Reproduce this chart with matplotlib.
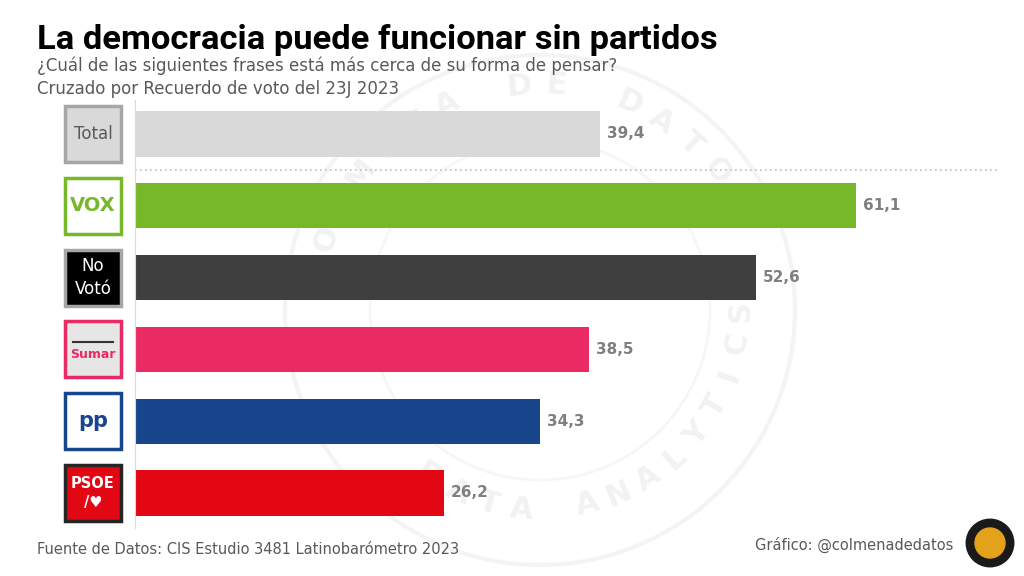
"""
La democracia puede funcionar sin partidos - barras por recuerdo de voto
"""
import numpy as np
import matplotlib.pyplot as plt
from matplotlib.patches import Rectangle, Circle

# Datos
categories = ['Total', 'VOX', 'No Votó', 'Sumar', 'PP', 'PSOE']
values = [39.4, 61.1, 52.6, 38.5, 34.3, 26.2]
bar_colors = ['#d9d9d9', '#76b82a', '#3f3f3f', '#ea2a63', '#17468c', '#e30613']

# Cajas de logo: (fondo, borde, texto, color texto)
logo_face = ['#d9d9d9', '#ffffff', '#000000', '#e6e6e6', '#ffffff', '#e30613']
logo_edge = ['#a6a6a6', '#76b82a', '#a6a6a6', '#ea2a63', '#17468c', '#262626']
logo_text = ['Total', 'VOX', 'No\nVotó', 'Sumar', 'pp', 'PSOE\n/♥']
logo_tcol = ['#595959', '#76b82a', '#ffffff', '#ea2a63', '#17468c', '#ffffff']

W, H = 1024, 576
fig = plt.figure(figsize=(10.24, 5.76), dpi=100)

# marca de agua circular (en un eje de fondo, en pixeles)
bg = fig.add_axes([0, 0, 1, 1], zorder=-1)
bg.set_xlim(0, W)
bg.set_ylim(H, 0)
bg.axis('off')


def arc_text(txt, cx, cy, r, a_mid, step, top=True):
    n = len(txt)
    for i, ch in enumerate(txt):
        if top:
            a = a_mid + (n / 2 - 0.5 - i) * step
            rot = a - 90
        else:
            a = a_mid - (n / 2 - 0.5 - i) * step
            rot = a + 90
        t = np.radians(a)
        bg.text(cx + r * np.cos(t), cy - r * np.sin(t), ch, rotation=rot,
                ha='center', va='center', fontsize=22, fontweight='bold', color='#f2f2f2')


arc_text('COLMENA DE DATOS', 540, 310, 225, 100, 9.5, top=True)
arc_text('DATA ANALYTICS', 540, 310, 200, 298, 9.5, top=False)
bg.add_patch(Circle((540, 310), 255, fill=False, edgecolor='#f4f4f4', lw=3))
bg.add_patch(Circle((540, 310), 170, fill=False, edgecolor='#f6f6f6', lw=2))

ax = fig.add_axes([135 / W, 48 / H, 865 / W, 428 / H])
ax.patch.set_alpha(0)

px = 11.8  # pixeles por unidad
ax.set_xlim(0, 865 / px)
spacing = 71.8
ax.set_ylim((528 - 134) / spacing, -(134 - 100) / spacing)

y = list(range(len(categories)))
ax.barh(y, values, height=0.63, color=bar_colors, zorder=2)

for yi, v in zip(y, values):
    ax.text(v + 7 / px, yi, f'{v:.1f}'.replace('.', ','), va='center', ha='left',
            fontsize=11, fontweight='bold', color='#7f7f7f')

# separador punteado
ax.plot([0, 865 / px], [0.5, 0.5], linestyle=(0, (1, 2)), color='#bfbfbf', lw=1.2, clip_on=False)

for s in ['top', 'right', 'bottom']:
    ax.spines[s].set_visible(False)
ax.spines['left'].set_color('#d9d9d9')
ax.set_xticks([])
ax.set_yticks([])

# logos
bw = 56 / px
bh = 56 / spacing
x0 = (65 - 135) / px
for yi, fc, ec, t, tc in zip(y, logo_face, logo_edge, logo_text, logo_tcol):
    ax.add_patch(Rectangle((x0, yi - bh / 2), bw, bh, facecolor=fc, edgecolor=ec, lw=2.5,
                           clip_on=False, zorder=3))
    fs = 12
    fw = 'normal'
    if t == 'VOX':
        fs, fw = 14, 'bold'
    elif t == 'Sumar':
        fs, fw = 9, 'bold'
        ax.plot([x0 + 0.7, x0 + bw - 0.7], [yi - 0.1, yi - 0.1], color='#333333', lw=1.5,
                clip_on=False, zorder=4)
    elif t == 'pp':
        fs, fw = 15, 'bold'
    elif t.startswith('PSOE'):
        fs, fw = 10.5, 'bold'
    ax.text(x0 + bw / 2, yi + (0.07 if t == 'Sumar' else 0), t, ha='center', va='center',
            fontsize=fs, fontweight=fw, color=tc, zorder=5, linespacing=1.3)

# textos
fig.text(37 / W, 1 - 40 / H, 'La democracia puede funcionar sin partidos', fontsize=24.8,
         fontweight='bold', color='#000000', va='center', family='Roboto')
fig.text(37 / W, 1 - 66 / H, '¿Cuál de las siguientes frases está más cerca de su forma de pensar?',
         fontsize=12, color='#595959', va='center')
fig.text(37 / W, 1 - 89 / H, 'Cruzado por Recuerdo de voto del 23J 2023',
         fontsize=12, color='#595959', va='center')
fig.text(37 / W, 1 - 550 / H, 'Fuente de Datos: CIS Estudio 3481 Latinobarómetro 2023',
         fontsize=10.5, color='#595959', va='center')
fig.text(953 / W, 1 - 545 / H, 'Gráfico: @colmenadedatos',
         fontsize=10.5, color='#595959', va='center', ha='right')

# sello
logo_ax = fig.add_axes([965 / W, 1 - 568 / H, 50 / W, 50 / H])
logo_ax.set_xlim(-1, 1)
logo_ax.set_ylim(-1, 1)
logo_ax.set_aspect('equal')
logo_ax.axis('off')
logo_ax.add_patch(Circle((0, 0), 0.95, color='#1a1a1a'))
logo_ax.add_patch(Circle((0, 0), 0.6, color='#e3a21a'))

fig.savefig('out.png', dpi=100)
